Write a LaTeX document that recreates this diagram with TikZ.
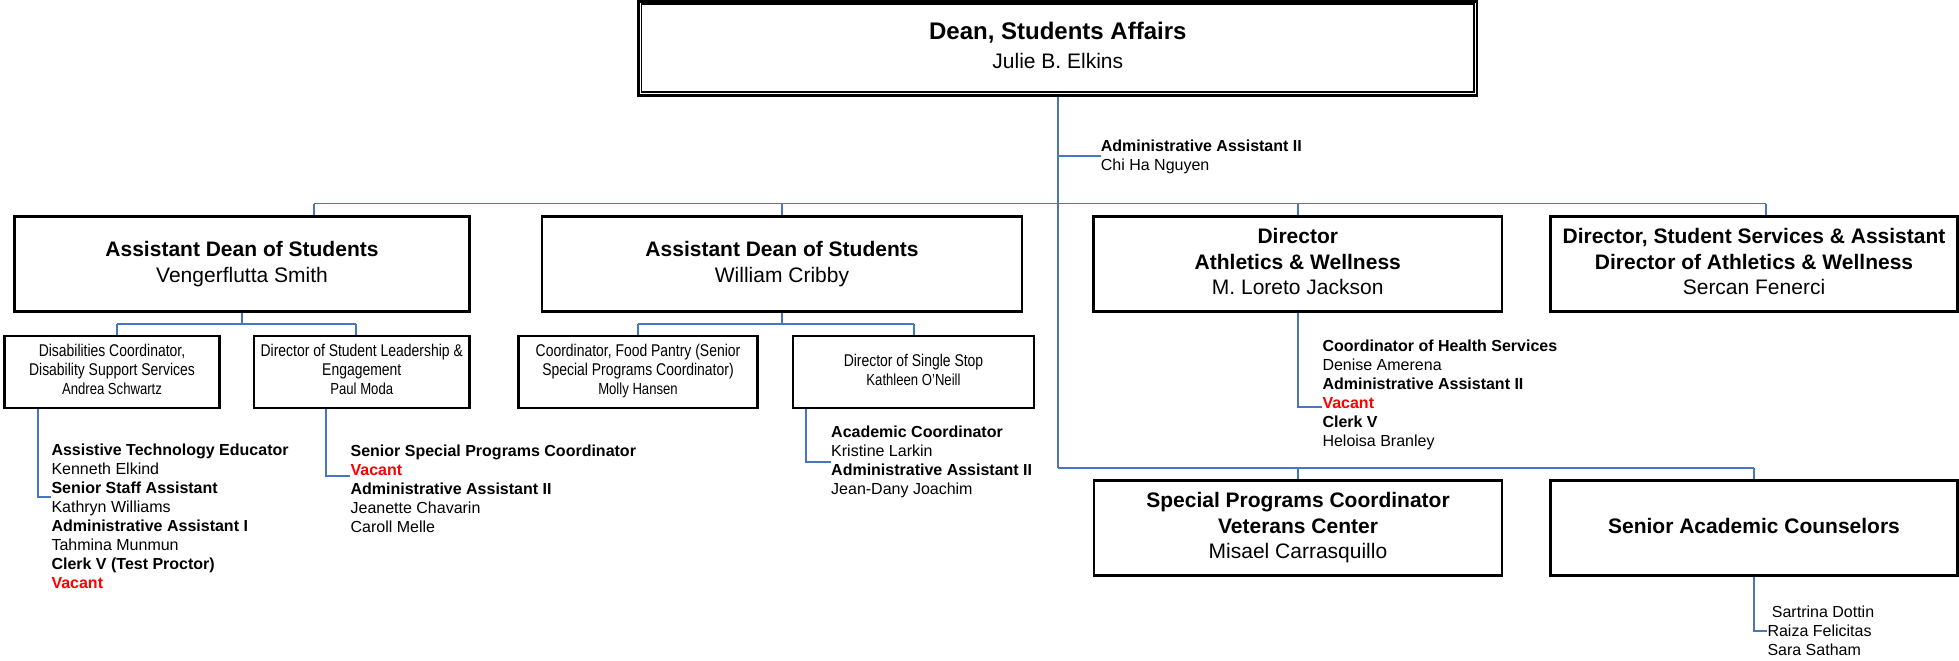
\documentclass[tikz,border=0pt]{standalone}
\usepackage{fontspec}
\setmainfont{Liberation Sans}
\newfontfamily\nrw[FakeStretch=0.82]{Liberation Sans}
\usetikzlibrary{backgrounds}
\definecolor{connblue}{RGB}{72,118,192}
\definecolor{vacred}{RGB}{255,0,0}
\newcommand\orgc[1]{\begin{tabular}{@{}c@{}}#1\end{tabular}}
\newcommand\orgl[1]{\begin{tabular}[t]{@{}l@{}}#1\end{tabular}}
\newcommand\vac{\textcolor{vacred}{\textbf{Vacant}}}
\newcommand\topx[1]{\rule{0pt}{\dimexpr 0.7\baselineskip+#1\relax}}
\begin{document}
\begin{tikzpicture}[x=1pt,y=-1pt,
  box/.style={draw=black, line width=2.1pt, fill=white, inner sep=0pt, minimum height=95pt, font=\fontsize{21}{25.5}\selectfont},
  smallbox/.style={draw=black, line width=2.1pt, fill=white, inner sep=0pt, minimum height=72pt, font=\nrw\fontsize{17}{19}\selectfont},
  list/.style={anchor=base west, inner sep=0pt, font=\fontsize{16}{19}\selectfont},
  conn/.style={draw=connblue, line width=1.7pt}]
\useasboundingbox (0,0) rectangle (1959,661);

% top
\node[box, line width=2.7pt, minimum width=838.4pt, minimum height=93.8pt, font=\fontsize{24}{28.3}\selectfont] (dean) at (1057.8,48.25)
  {\orgc{\topx{3.4pt}\textbf{Dean, Students Affairs}\\ \fontsize{21}{28.3}\selectfont Julie B. Elkins}};
\draw[line width=1.7pt] ([shift={(4.3,4.3)}]dean.north west) rectangle ([shift={(-4.3,-4.3)}]dean.south east);
\node[list] (admin) at (1100.7,151.7) {\orgl{\textbf{Administrative Assistant II}\\ Chi Ha Nguyen}};

% second row
\node[box, minimum width=455pt, font=\fontsize{21}{26}\selectfont] (b1) at (242,264)
  {\orgc{\textbf{Assistant Dean of Students}\\ Vengerflutta Smith}};
\node[box, minimum width=480pt, font=\fontsize{21}{26}\selectfont] (b2) at (782,264)
  {\orgc{\textbf{Assistant Dean of Students}\\ William Cribby}};
\node[box, minimum width=408.5pt] (b3) at (1297.75,264)
  {\orgc{\topx{3.2pt}\textbf{Director}\\ \textbf{Athletics \& Wellness}\\ M. Loreto Jackson}};
\node[box, minimum width=407pt] (b4) at (1754,264)
  {\orgc{\topx{3.2pt}\textbf{Director, Student Services \& Assistant}\\ \textbf{Director of Athletics \& Wellness}\\ Sercan Fenerci}};

% small boxes
\node[smallbox, minimum width=215pt] (sA) at (112,372)
  {\orgc{Disabilities Coordinator,\\ Disability Support Services\\ \fontsize{16}{19}\selectfont Andrea Schwartz}};
\node[smallbox, minimum width=215.5pt] (sB) at (361.75,372)
  {\orgc{Director of Student Leadership \&\\ Engagement\\ \fontsize{16}{19}\selectfont Paul Moda}};
\node[smallbox, minimum width=239pt] (sC) at (638,372)
  {\orgc{Coordinator, Food Pantry (Senior\\ Special Programs Coordinator)\\ \fontsize{16}{19}\selectfont Molly Hansen}};
\node[smallbox, minimum width=241pt] (sD) at (913.5,372)
  {\orgc{Director of Single Stop\\ \fontsize{16}{19}\selectfont Kathleen O’Neill}};

% lists
\node[list] (lA) at (51.3,455.7) {\orgl{\textbf{Assistive Technology Educator}\\ Kenneth Elkind\\ \textbf{Senior Staff Assistant}\\ Kathryn Williams\\ \textbf{Administrative Assistant I}\\ Tahmina Munmun\\ \textbf{Clerk V (Test Proctor)}\\ \vac}};
\node[list] (lB) at (350.4,456.7) {\orgl{\textbf{Senior Special Programs Coordinator}\\ \vac\\ \textbf{Administrative Assistant II}\\ Jeanette Chavarin\\ Caroll Melle}};
\node[list] (lD) at (831,437.7) {\orgl{\textbf{Academic Coordinator}\\ Kristine Larkin\\ \textbf{Administrative Assistant II}\\ Jean-Dany Joachim}};
\node[list] (l3) at (1322.3,351.7) {\orgl{\textbf{Coordinator of Health Services}\\ Denise Amerena\\ \textbf{Administrative Assistant II}\\ \vac\\ \textbf{Clerk V}\\ Heloisa Branley}};

% bottom boxes
\node[box, minimum width=408pt] (b5) at (1298,528)
  {\orgc{\topx{3.2pt}\textbf{Special Programs Coordinator}\\ \textbf{Veterans Center}\\ Misael Carrasquillo}};
\node[box, minimum width=407pt] (b6) at (1754,528)
  {\orgc{\textbf{Senior Academic Counselors}}};
\node[list] (lC) at (1767.3,617.3) {\orgl{\hspace{4.4pt}Sartrina Dottin\\ Raiza Felicitas\\ Sara Satham}};

% junction coordinates
\coordinate (trunk) at (1058,468.3);
\coordinate (adminj) at (1058,155.7);
\coordinate (barL) at (314,203.5);
\coordinate (barR) at (1766,203.5);
\coordinate (b1L) at (117,324);
\coordinate (b1R) at (355.7,324);
\coordinate (b2L) at (637.7,324);
\coordinate (b2R) at (913.7,324);
\coordinate (aJ) at (38,496.7);
\coordinate (bJ) at (326,476);
\coordinate (dJ) at (805.7,461.7);
\coordinate (tJ) at (1298,407.3);
\coordinate (bar2R) at (1754,468.3);
\coordinate (cJ) at (1754,631);

\begin{scope}[on background layer]
\draw[conn] (dean.south -| trunk) -- (trunk);
\draw[conn] (adminj) -- (adminj -| admin.west);
\draw[conn] (barL) -- (barR);
\draw[conn] (barL) -- (barL |- b1.north);
\draw[conn] (b2.north |- barL) -- (b2.north);
\draw[conn] (b3.north |- barL) -- (b3.north);
\draw[conn] (barR) -- (barR |- b4.north);
\draw[conn] (b1.south) -- (b1.south |- b1L);
\draw[conn] (b1L) -- (b1R);
\draw[conn] (b1L) -- (b1L |- sA.north);
\draw[conn] (b1R) -- (b1R |- sB.north);
\draw[conn] (b2.south) -- (b2.south |- b2L);
\draw[conn] (b2L) -- (b2R);
\draw[conn] (b2L) -- (b2L |- sC.north);
\draw[conn] (b2R) -- (b2R |- sD.north);
\draw[conn] (aJ |- sA.south) -- (aJ) -- (aJ -| lA.west);
\draw[conn] (bJ |- sB.south) -- (bJ) -- (bJ -| lB.west);
\draw[conn] (dJ |- sD.south) -- (dJ) -- (dJ -| lD.west);
\draw[conn] (b3.south -| tJ) -- (tJ) -- (tJ -| l3.west);
\draw[conn] (trunk) -- (bar2R);
\draw[conn] (b5.north |- trunk) -- (b5.north);
\draw[conn] (bar2R) -- (b6.north);
\draw[conn] (b6.south) -- (cJ) -- (cJ -| lC.west);
\end{scope}
\end{tikzpicture}
\end{document}
